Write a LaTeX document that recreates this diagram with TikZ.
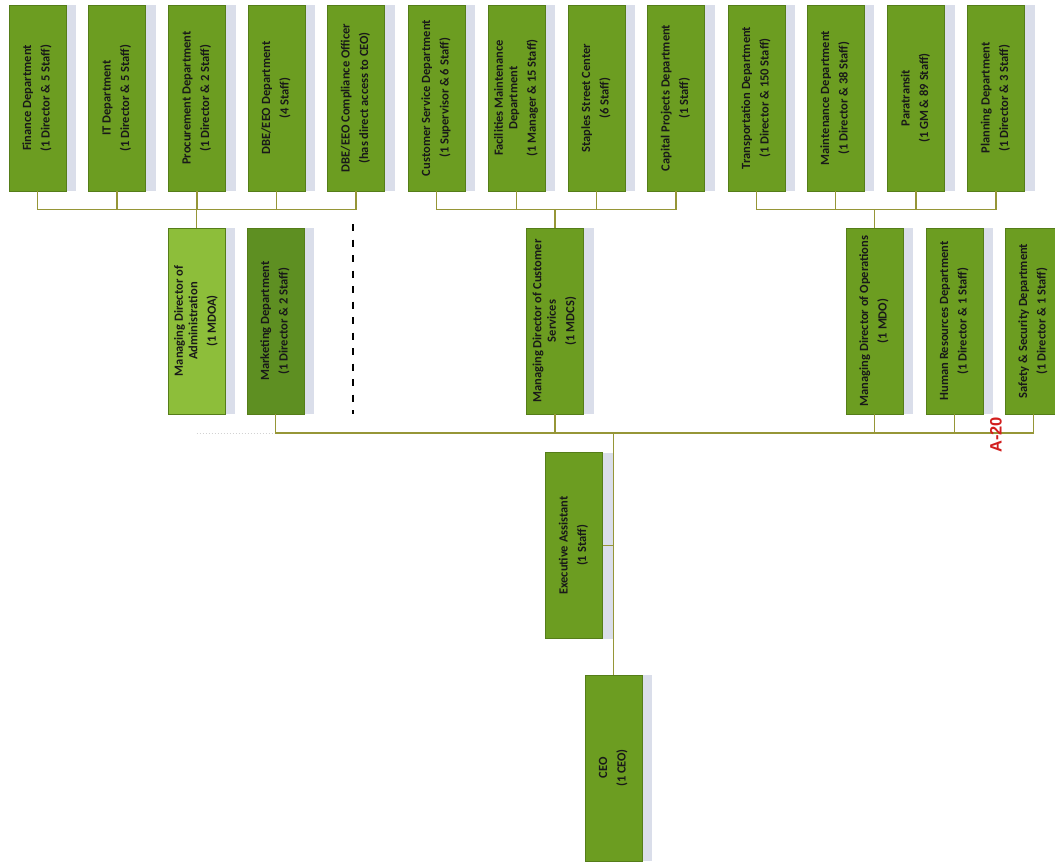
\documentclass[tikz,border=0pt]{standalone}
\usepackage{fontspec}
\setmainfont{Carlito}
\newfontfamily\labelfont{Liberation Sans}
\usetikzlibrary{shadows}
\definecolor{boxgreen}{RGB}{108,157,33}
\definecolor{lightgreen}{RGB}{141,190,58}
\definecolor{darkgreen}{RGB}{94,143,34}
\definecolor{boxedge}{RGB}{85,125,25}
\definecolor{linecol}{RGB}{150,150,55}
\definecolor{shadowcol}{RGB}{218,222,234}
\definecolor{labelred}{RGB}{210,30,30}
\newcommand{\bxt}[1]{\rotatebox{90}{\begin{tabular}{@{}c@{}}#1\end{tabular}}}
\tikzset{
  orgbox/.style={draw=boxedge, line width=0.4pt, fill=boxgreen, minimum width=57pt,
    minimum height=186pt, inner sep=0pt, text=black!90,
    font=\fontsize{12.5}{14.5}\selectfont\bfseries,
    general shadow={shadow xshift=10pt, fill=shadowcol}},
  conn/.style={draw=linecol, line width=1.3pt},
  dashline/.style={draw=black, line width=2.8pt, dash pattern=on 7pt off 8.5pt},
  faintline/.style={draw=gray!35, line width=1pt, dotted},
  reflabel/.style={rotate=90, text=labelred, inner sep=0pt,
    font=\labelfont\bfseries\fontsize{16.5}{18}\selectfont}
}
\begin{document}
\begin{tikzpicture}[x=1pt,y=-1pt]
\useasboundingbox (0,0) rectangle (1055,863);
\clip (0,0) rectangle (1055,863);
\fill[white] (0,0) rectangle (1055,863);
% top row
\node[orgbox] (fin)   at (37.5,98)  {\bxt{Finance Department\\[4pt](1 Director \& 5 Staff)}};
\node[orgbox] (it)    at (117,98)   {\bxt{IT Department\\[4pt](1 Director \& 5 Staff)}};
\node[orgbox] (proc)  at (197,98)   {\bxt{Procurement Department\\[4pt](1 Director \& 2 Staff)}};
\node[orgbox] (dbe)   at (276.5,98) {\bxt{DBE/EEO Department\\[4pt](4 Staff)}};
\node[orgbox] (comp)  at (356,98)   {\bxt{DBE/EEO Compliance Officer\\[4pt](has direct access to CEO)}};
\node[orgbox] (cust)  at (436.5,98) {\bxt{Customer Service Department\\[4pt](1 Supervisor \& 6 Staff)}};
\node[orgbox] (fac)   at (516.5,98) {\bxt{Facilities Maintenance\\Department\\[4pt](1 Manager \& 15 Staff)}};
\node[orgbox] (stap)  at (596.5,98) {\bxt{Staples Street Center\\[4pt](6 Staff)}};
\node[orgbox] (cap)   at (676,98)   {\bxt{Capital Projects Department\\[4pt](1 Staff)}};
\node[orgbox] (trans) at (756.5,98) {\bxt{Transportation Department\\[4pt](1 Director \& 150 Staff)}};
\node[orgbox] (maint) at (835.5,98) {\bxt{Maintenance Department\\[4pt](1 Director \& 38 Staff)}};
\node[orgbox] (para)  at (916,98)   {\bxt{Paratransit\\[4pt](1 GM \& 89 Staff)}};
\node[orgbox] (plan)  at (996,98)   {\bxt{Planning Department\\[4pt](1 Director \& 3 Staff)}};
% middle row
\node[orgbox, fill=lightgreen] (mdoa) at (196.5,321) {\bxt{Managing Director of\\Administration\\[4pt](1 MDOA)}};
\node[orgbox, fill=darkgreen]  (mkt)  at (275.5,321) {\bxt{Marketing Department\\[4pt](1 Director \& 2 Staff)}};
\node[orgbox] (mdcs)   at (555,321)    {\bxt{Managing Director of Customer\\Services\\[4pt](1 MDCS)}};
\node[orgbox] (mdo)    at (874.5,321)  {\bxt{Managing Director of Operations\\[4pt](1 MDO)}};
\node[orgbox] (hr)     at (954.5,321)  {\bxt{Human Resources Department\\[4pt](1 Director \& 1 Staff)}};
\node[orgbox] (safety) at (1033.5,321) {\bxt{Safety \& Security Department\\[4pt](1 Director \& 1 Staff)}};
% lower
\node[orgbox] (ea)  at (574,545.5) {\bxt{Executive Assistant\\[4pt](1 Staff)}};
\node[orgbox] (ceo) at (613.5,768) {\bxt{CEO\\[4pt](1 CEO)}};
% bus coordinates
\coordinate (topbus) at (0,209.5);
\coordinate (botbus) at (0,433);
\coordinate (dtop) at (353,224);
\coordinate (dbot) at (353,414);
% top groups
\draw[conn] (fin.south) -- (fin.south |- topbus) -- (comp.south |- topbus) -- (comp.south);
\foreach \n in {it,proc,dbe} \draw[conn] (\n.south) -- (\n.south |- topbus);
\draw[conn] (mdoa.north) -- (mdoa.north |- topbus);
\draw[conn] (cust.south) -- (cust.south |- topbus) -- (cap.south |- topbus) -- (cap.south);
\foreach \n in {fac,stap} \draw[conn] (\n.south) -- (\n.south |- topbus);
\draw[conn] (mdcs.north) -- (mdcs.north |- topbus);
\draw[conn] (trans.south) -- (trans.south |- topbus) -- (plan.south |- topbus) -- (plan.south);
\foreach \n in {maint,para} \draw[conn] (\n.south) -- (\n.south |- topbus);
\draw[conn] (mdo.north) -- (mdo.north |- topbus);
% dashed line
\draw[dashline] (dtop) -- (dbot);
% bottom bus
\draw[faintline] (mdoa.south |- botbus) -- (mkt.south |- botbus);
\draw[conn] (mkt.south) -- (mkt.south |- botbus) -- (safety.south |- botbus) -- (safety.south);
\foreach \n in {mdcs,mdo,hr} \draw[conn] (\n.south) -- (\n.south |- botbus);
\draw[conn] (ceo.north |- botbus) -- (ceo.north);
\draw[conn] (ea.east) -- (ea.east -| ceo.north);
% label
\node[reflabel] (a20) at (996,435) {A-20};
\end{tikzpicture}
\end{document}
